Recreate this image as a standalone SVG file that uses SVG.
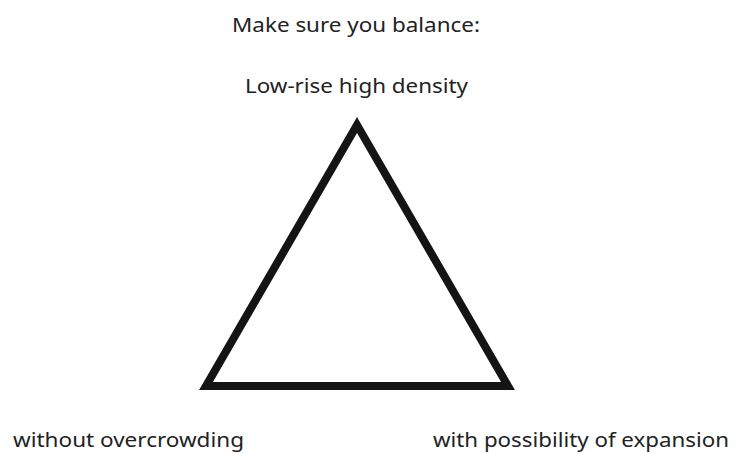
<svg xmlns="http://www.w3.org/2000/svg" width="737" height="453" viewBox="0 0 737 453">
  <style>
    .label { font-family: "Noto Sans", "Open Sans", "Liberation Sans", sans-serif; font-size: 20px; fill: #222222; }
    .tri { fill: none; stroke: #141414; stroke-width: 8; stroke-linejoin: miter; }
  </style>
  <rect width="737" height="453" fill="#ffffff"/>
  <g id="title">
    <text class="label" x="232" y="32" textLength="248" lengthAdjust="spacingAndGlyphs">Make sure you balance:</text>
  </g>
  <g id="triangle">
    <polygon class="tri" points="357,125 508,386 206,386"/>
  </g>
  <g id="node-top">
    <text class="label" x="245" y="93" textLength="223" lengthAdjust="spacingAndGlyphs">Low-rise high density</text>
  </g>
  <g id="node-left">
    <text class="label" x="13" y="447" textLength="231" lengthAdjust="spacingAndGlyphs">without overcrowding</text>
  </g>
  <g id="node-right">
    <text class="label" x="433" y="447" textLength="296" lengthAdjust="spacingAndGlyphs">with possibility of expansion</text>
  </g>
  <g id="connectors"></g>
</svg>
